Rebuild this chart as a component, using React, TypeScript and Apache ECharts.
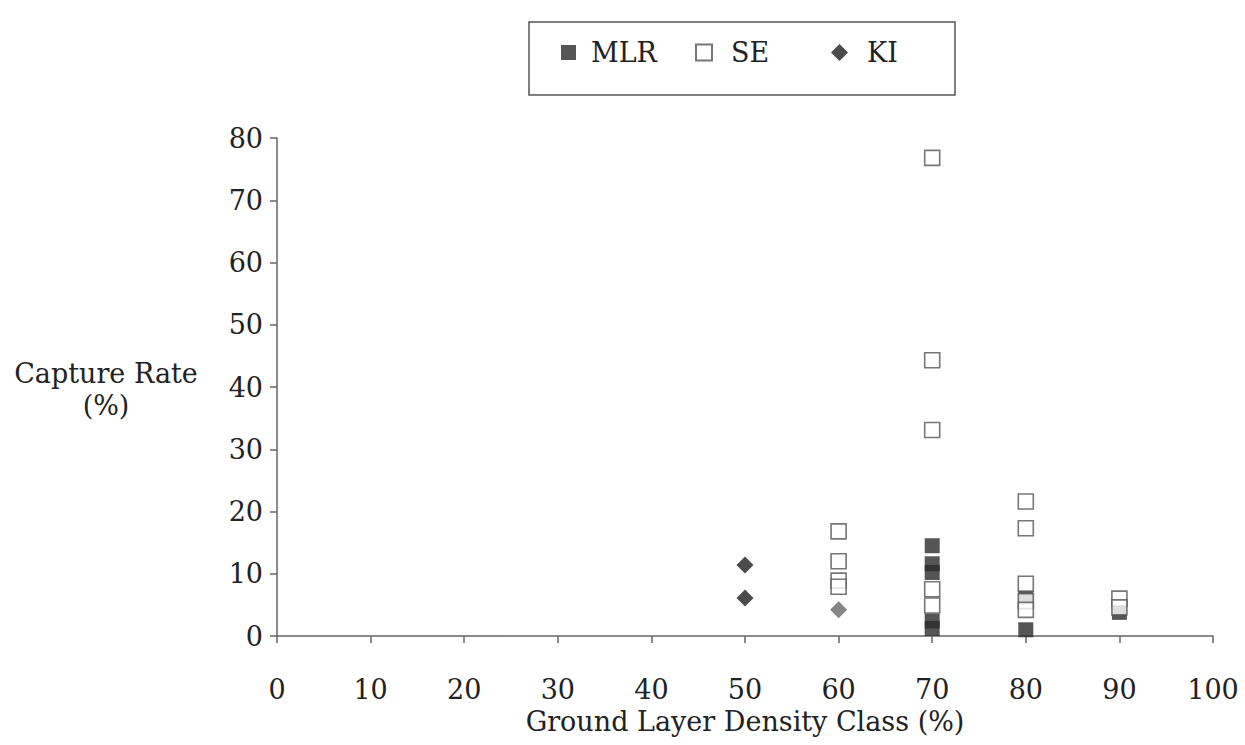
import React, { useEffect, useRef } from "react";
import * as echarts from "echarts";

const xTicks = [0, 10, 20, 30, 40, 50, 60, 70, 80, 90, 100];
const yTicks = [0, 10, 20, 30, 40, 50, 60, 70, 80];

// [density class, capture rate]
const mlrData: [number, number][] = [
  [70, 14.5], [70, 11.6], [70, 10.2], [70, 2.4], [70, 1.2],
  [80, 6.2], [80, 1.0],
  [90, 3.8],
];
const seData: [number, number][] = [
  [60, 16.8], [60, 12.0], [60, 8.9], [60, 7.9],
  [70, 76.8], [70, 44.3], [70, 33.1], [70, 7.5], [70, 4.9],
  [80, 21.6], [80, 17.3], [80, 8.4], [80, 5.6], [80, 4.2],
  [90, 6.0], [90, 4.6],
];
const kiData: [number, number][] = [
  [50, 11.4], [50, 6.1],
];
const kiGrayData: [number, number][] = [
  [60, 4.2],
];

const FONT = "'DejaVu Serif', 'Liberation Serif', serif";

export default function App() {
  const ref = useRef<HTMLDivElement>(null);
  useEffect(() => {
    if (!ref.current) return;
    const chart = echarts.init(ref.current, undefined, { renderer: "svg" });
    const legendText = { fontFamily: FONT, fontSize: 27, color: "#222" };
    chart.setOption({
      animation: false,
      backgroundColor: "#fff",
      graphic: [
        {
          type: "rect",
          shape: { x: 529, y: 22, width: 426, height: 73 },
          style: { fill: "#fff", stroke: "#555", lineWidth: 1.5 },
          z: -1,
        },
        {
          type: "text",
          x: 106,
          y: 389,
          style: {
            text: "Capture Rate\n(%)",
            fontFamily: FONT,
            fontSize: 27,
            lineHeight: 32,
            fill: "#222",
            align: "center",
            verticalAlign: "middle",
          },
        },
      ],
      legend: [
        {
          data: ["MLR"],
          left: 556,
          top: 34,
          itemWidth: 15,
          itemHeight: 15,
          textStyle: { ...legendText, padding: [0, 0, 0, 10] },
          selectedMode: false,
        },
        {
          data: ["SE"],
          left: 690,
          top: 34,
          itemWidth: 16,
          itemHeight: 16,
          textStyle: { ...legendText, padding: [0, 0, 0, 14] },
          selectedMode: false,
        },
        {
          data: ["KI"],
          left: 826,
          top: 34,
          itemWidth: 17,
          itemHeight: 17,
          textStyle: { ...legendText, padding: [0, 0, 0, 14] },
          selectedMode: false,
        },
      ],
      grid: { left: 277, right: 32, top: 138, bottom: 109, outerBoundsMode: "none" },
      xAxis: {
        type: "value",
        min: 0,
        max: 100,
        interval: 10,
        name: "Ground Layer Density Class (%)",
        nameLocation: "middle",
        nameGap: 70,
        nameTextStyle: { fontFamily: FONT, fontSize: 27, color: "#222" },
        axisLine: { lineStyle: { color: "#666", width: 1.5 } },
        axisTick: { show: true, length: 7, lineStyle: { color: "#666", width: 1.5 } },
        axisLabel: {
          fontFamily: FONT,
          fontSize: 27,
          color: "#222",
          margin: 40,
          formatter: (v: number) => (xTicks.includes(v) ? String(v) : ""),
        },
        splitLine: { show: false },
      },
      yAxis: {
        type: "value",
        min: 0,
        max: 80,
        interval: 10,
        axisLine: { show: true, lineStyle: { color: "#666", width: 1.5 } },
        axisTick: { show: true, length: 7, lineStyle: { color: "#666", width: 1.5 } },
        axisLabel: {
          fontFamily: FONT,
          fontSize: 27,
          color: "#222",
          margin: 14,
          formatter: (v: number) => (yTicks.includes(v) ? String(v) : ""),
        },
        splitLine: { show: false },
      },
      series: [
        {
          name: "SE",
          type: "scatter",
          symbol: "rect",
          symbolSize: 15,
          data: seData,
          itemStyle: { color: "#fff", borderColor: "#555", borderWidth: 1.6 },
          z: 3,
        },
        {
          name: "MLR",
          type: "scatter",
          symbol: "rect",
          symbolSize: 15,
          data: mlrData,
          itemStyle: { color: "#2b2b2b" },
          z: 2,
        },
        {
          name: "KI",
          type: "scatter",
          symbol: "diamond",
          symbolSize: 17,
          data: kiData,
          itemStyle: { color: "#1e1e1e" },
          z: 4,
        },
        {
          name: "KI (grey)",
          type: "scatter",
          symbol: "diamond",
          symbolSize: 17,
          data: kiGrayData,
          itemStyle: { color: "#666" },
          z: 4,
        },
      ],
    });
    return () => chart.dispose();
  }, []);
  return <div ref={ref} style={{ width: 1245, height: 745, position: "absolute", left: 0, top: 0 }} />;
}
